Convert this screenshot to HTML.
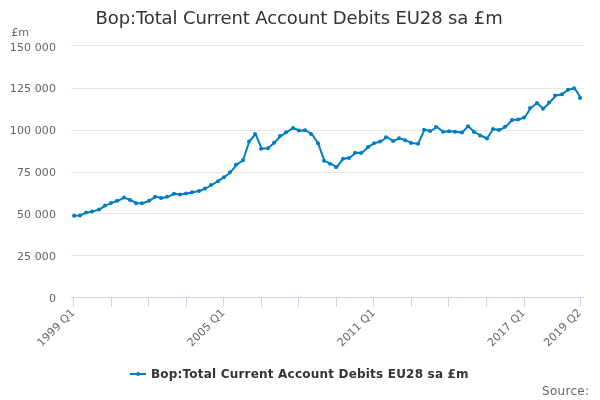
<!DOCTYPE html>
<html><head><meta charset="utf-8"><title>Bop:Total Current Account Debits EU28 sa £m</title>
<style>
html,body{margin:0;padding:0;background:#fff;}
body{width:600px;height:400px;overflow:hidden;}
svg{display:block;font-family:"DejaVu Sans","Liberation Sans",sans-serif;}
</style></head><body>
<svg width="600" height="400" viewBox="0 0 600 400">
<rect x="0" y="0" width="600" height="400" fill="#ffffff"/>
<g stroke="#E6E6E6" stroke-width="1" fill="none"><path d="M 71 45.5 L 584 45.5"/><path d="M 71 88.5 L 584 88.5"/><path d="M 71 130.5 L 584 130.5"/><path d="M 71 172.5 L 584 172.5"/><path d="M 71 213.5 L 584 213.5"/><path d="M 71 255.5 L 584 255.5"/></g>
<path d="M 71 297.5 L 584 297.5" stroke="#CCD6EB" stroke-width="1" fill="none"/>
<g stroke="#CCD6EB" stroke-width="1" fill="none"><path d="M 73.5 297 L 73.5 307"/><path d="M 111.5 297 L 111.5 307"/><path d="M 148.5 297 L 148.5 307"/><path d="M 186.5 297 L 186.5 307"/><path d="M 223.5 297 L 223.5 307"/><path d="M 261.5 297 L 261.5 307"/><path d="M 298.5 297 L 298.5 307"/><path d="M 336.5 297 L 336.5 307"/><path d="M 373.5 297 L 373.5 307"/><path d="M 411.5 297 L 411.5 307"/><path d="M 448.5 297 L 448.5 307"/><path d="M 486.5 297 L 486.5 307"/><path d="M 524.5 297 L 524.5 307"/><path d="M 580.5 297 L 580.5 307"/></g>
<path d="M 74.13 215.8 L 80.38 215.4 L 86.64 212.5 L 92.90 211.4 L 99.15 209.6 L 105.41 205.6 L 111.66 202.9 L 117.92 200.8 L 124.18 197.6 L 130.43 200.0 L 136.69 203.2 L 142.95 203.2 L 149.20 200.8 L 155.46 196.8 L 161.71 198.0 L 167.97 196.8 L 174.23 193.8 L 180.48 194.5 L 186.74 193.4 L 192.99 192.2 L 199.25 191.0 L 205.51 188.5 L 211.76 185.0 L 218.02 181.2 L 224.27 177.2 L 230.53 172.2 L 236.79 164.6 L 243.04 160.2 L 249.30 141.5 L 255.55 134.0 L 261.81 148.8 L 268.07 148.2 L 274.32 142.8 L 280.58 136.1 L 286.84 132.2 L 293.09 128.0 L 299.35 130.5 L 305.60 130.3 L 311.86 134.0 L 318.12 143.2 L 324.37 160.8 L 330.63 163.7 L 336.88 167.2 L 343.14 158.8 L 349.40 158.0 L 355.65 152.8 L 361.91 152.9 L 368.16 147.1 L 374.42 143.2 L 380.68 141.5 L 386.93 137.2 L 393.19 141.0 L 399.45 138.3 L 405.70 140.3 L 411.96 143.0 L 418.21 143.7 L 424.47 129.8 L 430.73 131.0 L 436.98 127.0 L 443.24 131.8 L 449.49 131.2 L 455.75 131.7 L 462.01 132.6 L 468.26 126.2 L 474.52 132.0 L 480.77 135.5 L 487.03 138.5 L 493.29 129.0 L 499.54 130.0 L 505.80 126.8 L 512.05 120.0 L 518.31 119.5 L 524.57 117.5 L 530.82 108.0 L 537.08 103.0 L 543.34 108.7 L 549.59 102.5 L 555.85 95.6 L 562.10 94.3 L 568.36 89.7 L 574.62 88.3 L 580.87 98.0" stroke="#007DC3" stroke-width="2" fill="none" stroke-linejoin="round" stroke-linecap="round"/>
<g fill="#007DC3"><circle cx="74" cy="215.8" r="2"/><circle cx="80" cy="215.4" r="2"/><circle cx="86" cy="212.5" r="2"/><circle cx="92" cy="211.4" r="2"/><circle cx="99" cy="209.6" r="2"/><circle cx="105" cy="205.6" r="2"/><circle cx="111" cy="202.9" r="2"/><circle cx="117" cy="200.8" r="2"/><circle cx="124" cy="197.6" r="2"/><circle cx="130" cy="200.0" r="2"/><circle cx="136" cy="203.2" r="2"/><circle cx="142" cy="203.2" r="2"/><circle cx="149" cy="200.8" r="2"/><circle cx="155" cy="196.8" r="2"/><circle cx="161" cy="198.0" r="2"/><circle cx="167" cy="196.8" r="2"/><circle cx="174" cy="193.8" r="2"/><circle cx="180" cy="194.5" r="2"/><circle cx="186" cy="193.4" r="2"/><circle cx="192" cy="192.2" r="2"/><circle cx="199" cy="191.0" r="2"/><circle cx="205" cy="188.5" r="2"/><circle cx="211" cy="185.0" r="2"/><circle cx="218" cy="181.2" r="2"/><circle cx="224" cy="177.2" r="2"/><circle cx="230" cy="172.2" r="2"/><circle cx="236" cy="164.6" r="2"/><circle cx="243" cy="160.2" r="2"/><circle cx="249" cy="141.5" r="2"/><circle cx="255" cy="134.0" r="2"/><circle cx="261" cy="148.8" r="2"/><circle cx="268" cy="148.2" r="2"/><circle cx="274" cy="142.8" r="2"/><circle cx="280" cy="136.1" r="2"/><circle cx="286" cy="132.2" r="2"/><circle cx="293" cy="128.0" r="2"/><circle cx="299" cy="130.5" r="2"/><circle cx="305" cy="130.3" r="2"/><circle cx="311" cy="134.0" r="2"/><circle cx="318" cy="143.2" r="2"/><circle cx="324" cy="160.8" r="2"/><circle cx="330" cy="163.7" r="2"/><circle cx="336" cy="167.2" r="2"/><circle cx="343" cy="158.8" r="2"/><circle cx="349" cy="158.0" r="2"/><circle cx="355" cy="152.8" r="2"/><circle cx="361" cy="152.9" r="2"/><circle cx="368" cy="147.1" r="2"/><circle cx="374" cy="143.2" r="2"/><circle cx="380" cy="141.5" r="2"/><circle cx="386" cy="137.2" r="2"/><circle cx="393" cy="141.0" r="2"/><circle cx="399" cy="138.3" r="2"/><circle cx="405" cy="140.3" r="2"/><circle cx="411" cy="143.0" r="2"/><circle cx="418" cy="143.7" r="2"/><circle cx="424" cy="129.8" r="2"/><circle cx="430" cy="131.0" r="2"/><circle cx="436" cy="127.0" r="2"/><circle cx="443" cy="131.8" r="2"/><circle cx="449" cy="131.2" r="2"/><circle cx="455" cy="131.7" r="2"/><circle cx="462" cy="132.6" r="2"/><circle cx="468" cy="126.2" r="2"/><circle cx="474" cy="132.0" r="2"/><circle cx="480" cy="135.5" r="2"/><circle cx="487" cy="138.5" r="2"/><circle cx="493" cy="129.0" r="2"/><circle cx="499" cy="130.0" r="2"/><circle cx="505" cy="126.8" r="2"/><circle cx="512" cy="120.0" r="2"/><circle cx="518" cy="119.5" r="2"/><circle cx="524" cy="117.5" r="2"/><circle cx="530" cy="108.0" r="2"/><circle cx="537" cy="103.0" r="2"/><circle cx="543" cy="108.7" r="2"/><circle cx="549" cy="102.5" r="2"/><circle cx="555" cy="95.6" r="2"/><circle cx="562" cy="94.3" r="2"/><circle cx="568" cy="89.7" r="2"/><circle cx="574" cy="88.3" r="2"/><circle cx="580" cy="98.0" r="2"/></g>
<text x="95.6" y="24" font-size="18px" letter-spacing="-0.12" fill="#333333">Bop:Total Current Account Debits EU28 sa £m</text>
<text x="11.2" y="36" font-size="11px" fill="#666666">£m</text>
<g font-size="11px" fill="#666666" letter-spacing="0.1"><text x="56" y="51" text-anchor="end">150 000</text><text x="56" y="92" text-anchor="end">125 000</text><text x="56" y="134" text-anchor="end">100 000</text><text x="56" y="176" text-anchor="end">75 000</text><text x="56" y="218" text-anchor="end">50 000</text><text x="56" y="260" text-anchor="end">25 000</text><text x="56" y="302" text-anchor="end">0</text></g>
<g font-size="11px" fill="#666666"><text x="75.43" y="313.2" text-anchor="end" letter-spacing="0.1" transform="rotate(-45 75.43 313.2)">1999 Q1</text><text x="225.57" y="313.2" text-anchor="end" letter-spacing="0.1" transform="rotate(-45 225.57 313.2)">2005 Q1</text><text x="375.72" y="313.2" text-anchor="end" letter-spacing="0.1" transform="rotate(-45 375.72 313.2)">2011 Q1</text><text x="525.87" y="313.2" text-anchor="end" letter-spacing="0.1" transform="rotate(-45 525.87 313.2)">2017 Q1</text><text x="582.17" y="313.2" text-anchor="end" letter-spacing="0.1" transform="rotate(-45 582.17 313.2)">2019 Q2</text></g>
<path d="M 130 374 L 146 374" stroke="#007DC3" stroke-width="2" fill="none"/>
<circle cx="138" cy="374" r="2" fill="#007DC3"/>
<text x="151" y="378" font-size="12px" font-weight="bold" letter-spacing="0.2" fill="#333333">Bop:Total Current Account Debits EU28 sa £m</text>
<text x="542" y="395" font-size="12px" letter-spacing="0.3" fill="#666666">Source:</text>
</svg>
</body></html>
